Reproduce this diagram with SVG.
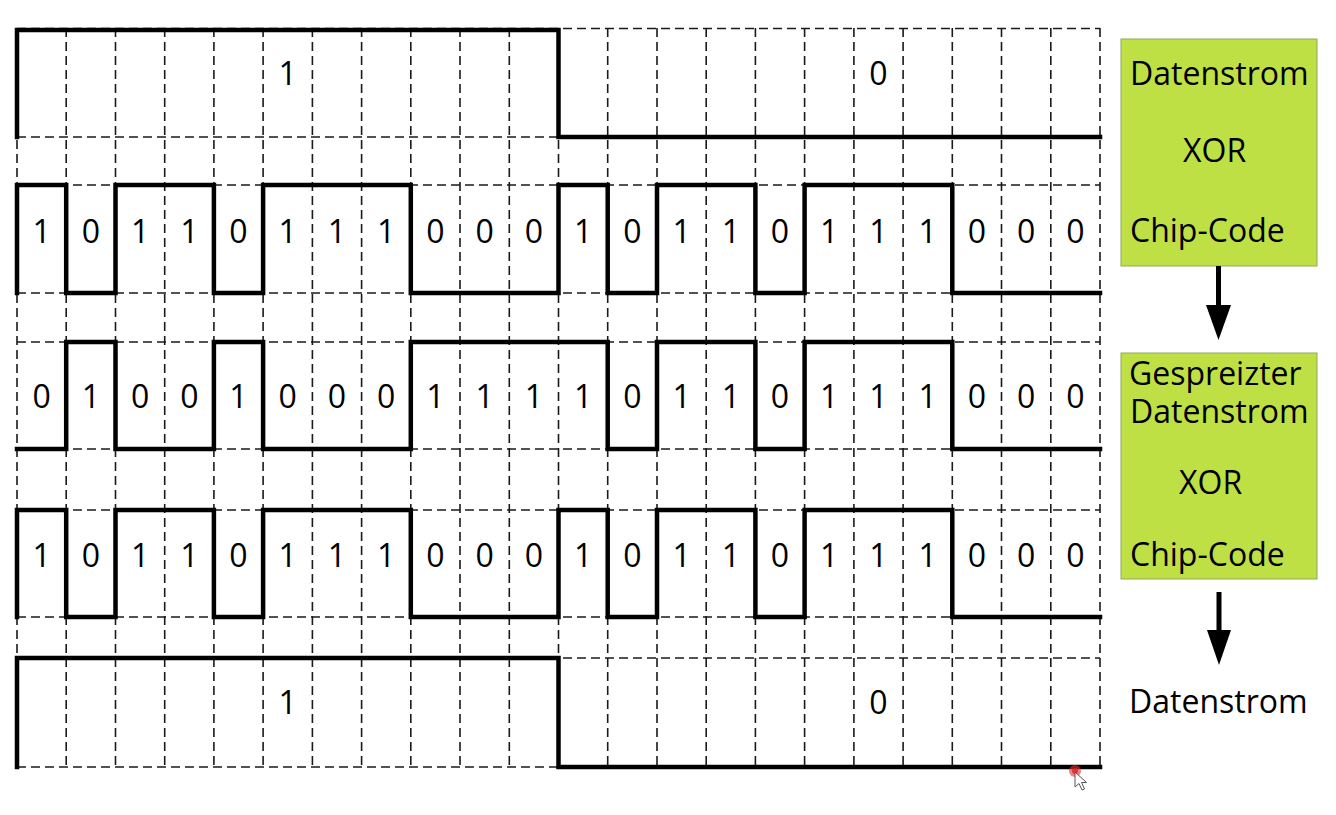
<svg xmlns="http://www.w3.org/2000/svg" width="1336" height="815" viewBox="0 0 1336 815">
<style>
.g{stroke:#1a1a1a;stroke-width:1.6;stroke-dasharray:9 5;fill:none}
.s{stroke:#000;stroke-width:4.5;fill:none;stroke-linejoin:miter;stroke-linecap:square}
.t{font-family:"Open Sans","Noto Sans","DejaVu Sans",sans-serif;font-size:32px;fill:#000}
.c{text-anchor:middle}
.box{fill:#bfe044;stroke:#8fa85a;stroke-width:1}
</style>
<rect width="1336" height="815" fill="#fff"/>
<g id="grid" class="g">
<path d="M17,28.5H1100M17,137H1100M17,185H1100M17,293H1100M17,342H1100M17,449H1100M17,510H1100M17,617H1100M17,658H1100M17,767H1100"/>
<path d="M17,28V767M66.2,28V767M115.5,28V767M164.7,28V767M213.9,28V767M263.1,28V767M312.4,28V767M361.6,28V767M410.8,28V767M460,28V767M509.3,28V767M558.5,28V767M607.7,28V767M657,28V767M706.2,28V767M755.4,28V767M804.6,28V767M853.9,28V767M903.1,28V767M952.3,28V767M1001.5,28V767M1050.8,28V767M1100,28V767"/>
</g>
<g id="signals" class="s">
<path id="sig-data" d="M17,137V30H558.5V137H1100"/>
<path id="sig-chip" d="M17,293V185H66.2V293H115.5V185H213.9V293H263.1V185H410.8V293H558.5V185H607.7V293H657V185H755.4V293H804.6V185H952.3V293H1100"/>
<path id="sig-spread" d="M17,449H66.2V342H115.5V449H213.9V342H263.1V449H410.8V342H607.7V449H657V342H755.4V449H804.6V342H952.3V449H1100"/>
<path id="sig-chip2" d="M17,617V510H66.2V617H115.5V510H213.9V617H263.1V510H410.8V617H558.5V510H607.7V617H657V510H755.4V617H804.6V510H952.3V617H1100"/>
<path id="sig-out" d="M17,767V658H558.5V767H1100"/>
</g>
<g id="labels" class="t c">
<text x="287.7" y="85">1</text><text x="878.5" y="85">0</text>
<g transform="translate(0,243)">
<text x="41.6">1</text><text x="90.8">0</text><text x="140.1">1</text><text x="189.3">1</text><text x="238.5">0</text><text x="287.7">1</text><text x="337">1</text><text x="386.2">1</text><text x="435.4">0</text><text x="484.7">0</text><text x="533.9">0</text><text x="583.1">1</text><text x="632.3">0</text><text x="681.6">1</text><text x="730.8">1</text><text x="780">0</text><text x="829.2">1</text><text x="878.5">1</text><text x="927.7">1</text><text x="976.9">0</text><text x="1026.2">0</text><text x="1075.4">0</text>
</g>
<g transform="translate(0,408)">
<text x="41.6">0</text><text x="90.8">1</text><text x="140.1">0</text><text x="189.3">0</text><text x="238.5">1</text><text x="287.7">0</text><text x="337">0</text><text x="386.2">0</text><text x="435.4">1</text><text x="484.7">1</text><text x="533.9">1</text><text x="583.1">1</text><text x="632.3">0</text><text x="681.6">1</text><text x="730.8">1</text><text x="780">0</text><text x="829.2">1</text><text x="878.5">1</text><text x="927.7">1</text><text x="976.9">0</text><text x="1026.2">0</text><text x="1075.4">0</text>
</g>
<g transform="translate(0,567)">
<text x="41.6">1</text><text x="90.8">0</text><text x="140.1">1</text><text x="189.3">1</text><text x="238.5">0</text><text x="287.7">1</text><text x="337">1</text><text x="386.2">1</text><text x="435.4">0</text><text x="484.7">0</text><text x="533.9">0</text><text x="583.1">1</text><text x="632.3">0</text><text x="681.6">1</text><text x="730.8">1</text><text x="780">0</text><text x="829.2">1</text><text x="878.5">1</text><text x="927.7">1</text><text x="976.9">0</text><text x="1026.2">0</text><text x="1075.4">0</text>
</g>
<text x="287.7" y="714">1</text><text x="878.5" y="714">0</text>
</g>
<g id="box1">
<rect class="box" x="1121" y="39" width="196" height="227"/>
<text class="t" x="1130" y="85">Datenstrom</text>
<text class="t" x="1183" y="162">XOR</text>
<text class="t" x="1130" y="242">Chip-Code</text>
</g>
<g id="box2">
<rect class="box" x="1121" y="353" width="196" height="226"/>
<text class="t"><tspan x="1129" y="385">Gespreizter</tspan><tspan x="1130" y="423">Datenstrom</tspan></text>
<text class="t" x="1179" y="494">XOR</text>
<text class="t" x="1130" y="566">Chip-Code</text>
</g>
<g id="out">
<text class="t" x="1129" y="713">Datenstrom</text>
</g>
<g id="connectors" fill="#000">
<rect x="1216" y="266" width="5" height="42"/>
<path d="M1206,305H1231L1218.5,340Z"/>
<rect x="1216.5" y="592" width="5" height="41"/>
<path d="M1207,630H1231L1219,665Z"/>
</g>
<g id="cursor">
<circle cx="1075" cy="771" r="6" fill="#e83030" opacity="0.6"/>
<circle cx="1075" cy="771" r="3" fill="#e02020" opacity="0.8"/>
<path d="M1075,772V787L1079,783.5L1082,790L1084.5,789L1081.5,782.5L1086.5,782.5Z" fill="#fff" stroke="#555" stroke-width="1"/>
</g>
</svg>
